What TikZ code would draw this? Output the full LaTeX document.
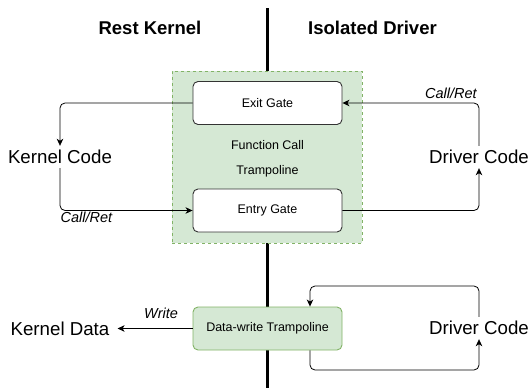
\documentclass[tikz,border=0pt]{standalone}
\usepackage{fontspec}
\setmainfont{Liberation Sans}
\usepackage{tikz}
\usetikzlibrary{arrows.meta}

\definecolor{trampfill}{HTML}{D5E8D4}
\definecolor{trampline}{HTML}{82B366}

\begin{document}
\begin{tikzpicture}[x=1pt,y=-1pt,
    gate/.style={draw=black!80,line width=0.9pt,fill=white,rounded corners=5pt,minimum width=149pt,minimum height=43pt,inner sep=0pt,font=\fontsize{12.5}{15}\selectfont},
    big/.style={inner ysep=0pt,inner xsep=8pt,minimum height=22pt,font=\fontsize{18.7}{22}\selectfont},
    head/.style={font=\fontsize{18.5}{22}\selectfont\bfseries},
    lbl/.style={inner sep=0pt,font=\fontsize{14.5}{17}\selectfont\itshape},
    conn/.style={line width=0.8pt,rounded corners=5pt,-{Stealth[length=7pt,width=6.5pt,inset=2pt]}}]

\useasboundingbox (0,0) rectangle (528,388);

\coordinate (top) at (267,8);
\coordinate (bottom) at (267,388);
\draw[line width=3pt] (top) -- (bottom);

\node[head] (rk) at (150,28) {Rest Kernel};
\node[head] (id) at (372.5,28) {Isolated Driver};

\node[fill=trampfill,draw=trampline,line width=0.8pt,dash pattern=on 3pt off 3pt,minimum width=190pt,minimum height=172pt] (fct) at (267,157) {};
\node[font=\fontsize{12.5}{25}\selectfont,align=center] (fctext) at (267.5,158.5) {Function Call\\Trampoline};

\node[gate] (exit) at (267.5,103) {Exit Gate};
\node[gate] (entry) at (267.5,210.5) {Entry Gate};
\node[gate,fill=trampfill,draw=trampline] (dw) at (267.5,328.5) {Data-write Trampoline};

\node[big] (kcode) at (60,157) {Kernel Code};
\node[big] (dcode) at (479,157) {Driver Code};
\node[big] (kdata) at (60,328.5) {Kernel Data};
\node[big] (dcode2) at (479,328) {Driver Code};

\draw[conn] (exit.west) -| (kcode.north);
\draw[conn] (kcode.south) |- (entry.west);
\draw[conn] (entry.east) -| (dcode.south);
\draw[conn] (dcode.north) |- (exit.east);
\draw[conn] (dw.west) -- (kdata.east);

\coordinate (loopa) at (310,286);
\coordinate (loopb) at (310,370);
\draw[conn] (dcode2.north) |- (loopa) -- (loopa |- dw.north);
\draw[conn] (loopb |- dw.south) -- (loopb) -| (dcode2.south);

\node[lbl] (cr1) at (86.5,217) {Call/Ret};
\node[lbl] (cr2) at (451,93) {Call/Ret};
\node[lbl] (wr) at (161,313) {Write};

\end{tikzpicture}
\end{document}
